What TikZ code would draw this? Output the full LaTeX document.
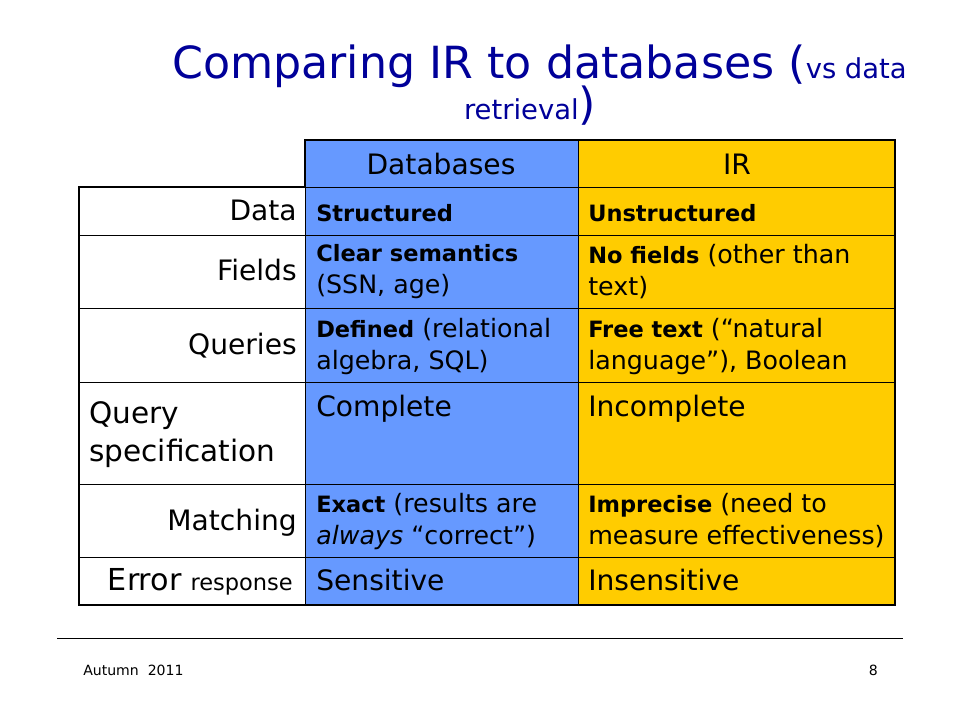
\documentclass[tikz,border=0pt]{standalone}
\usepackage{fontspec}
\setmainfont{DejaVu Sans}
\definecolor{titleblue}{RGB}{0,0,153}
\definecolor{dbblue}{RGB}{102,153,255}
\definecolor{iryellow}{RGB}{255,204,0}
\newcommand{\keyword}[1]{{\fontsize{16}{22.7}\selectfont\bfseries #1}}
\begin{document}
\begin{tikzpicture}[x=0.025cm,y=-0.025cm,
    cell/.style={anchor=north west,align=left,inner sep=0pt,font=\fontsize{18}{22.7}\selectfont},
    bigcell/.style={anchor=base west,inner sep=0pt,font=\fontsize{20}{24}\selectfont},
    rowlabel/.style={anchor=base east,inner sep=0pt,font=\fontsize{20}{24}\selectfont},
    head/.style={anchor=base,inner sep=0pt,font=\fontsize{20}{24}\selectfont},
    thickline/.style={line width=1.6pt},
    thinline/.style={line width=0.5pt}]
    \useasboundingbox (0,0) rectangle (960,720);
    % title
    \node[anchor=base west,inner sep=0pt,text=titleblue,font=\fontsize{31.5}{36}\selectfont] (title) at (172,79) {Comparing IR to databases ({\fontsize{19.5}{22}\selectfont vs data}};
    \node[anchor=base,inner sep=0pt,text=titleblue,font=\fontsize{19.5}{22}\selectfont] (title2) at (530,120) {retrieval{\fontsize{31.5}{36}\selectfont)}};
    % columns
    \fill[dbblue] (305,140) rectangle (578,605);
    \fill[iryellow] (578,140) rectangle (895,605);
    \foreach \y in {235,308,382,484,557} {
        \draw[thinline] (79,\y) -- (895,\y);
    }
    \draw[thinline] (305,187) -- (895,187);
    \draw[thinline] (305,187) -- (305,605);
    \draw[thinline] (578,140) -- (578,605);
    \draw[thickline] (79,187) -- (305,187) -- (305,140) -- (895,140) -- (895,605) -- (79,605) -- cycle;
    % header
    \node[head] (hdb) at (441,175) {Databases};
    \node[head] (hir) at (737,175) {IR};
    % row labels
    \node[rowlabel] (ldata) at (297,221) {Data};
    \node[rowlabel] (lfields) at (297,281) {Fields};
    \node[rowlabel] (lqueries) at (297,355) {Queries};
    \node[anchor=north west,align=left,inner sep=0pt,font=\fontsize{21}{27}\selectfont] (lspec) at (89,401) {Query\\specification};
    \node[rowlabel] (lmatch) at (297,530) {Matching};
    \node[rowlabel] (lerror) at (293,590) {{\fontsize{21.5}{24}\selectfont Error} {\fontsize{16}{20}\selectfont response}};
    % databases column
    \node[cell] (cstruct) at (316,204) {\keyword{Structured}};
    \node[cell] (csem) at (316,244) {\keyword{Clear semantics}\\(SSN, age)};
    \node[cell] (cdef) at (316,318) {\keyword{Defined} (relational\\algebra, SQL)};
    \node[bigcell] (ccomp) at (316,417) {Complete};
    \node[cell] (cexact) at (316,493) {\keyword{Exact} (results are\\\textit{always} “correct”)};
    \node[bigcell] (csens) at (316,590) {Sensitive};
    % ir column
    \node[cell] (iunstruct) at (588,204) {\keyword{Unstructured}};
    \node[cell] (inofields) at (588,244) {\keyword{No fields} (other than\\text)};
    \node[cell] (ifree) at (588,318) {\keyword{Free text} (“natural\\language”), Boolean};
    \node[bigcell] (iincomp) at (588,417) {Incomplete};
    \node[cell] (iimprec) at (588,493) {\keyword{Imprecise} (need to\\measure effectiveness)};
    \node[bigcell] (iinsens) at (588,590) {Insensitive};
    % footer
    \draw[thinline] (57,638) -- (903,638);
    \node[anchor=base west,inner sep=0pt,font=\fontsize{10}{12}\selectfont] (fdate) at (83,675) {Autumn~~2011};
    \node[anchor=base east,inner sep=0pt,font=\fontsize{10}{12}\selectfont] (fpage) at (878,675) {8};
\end{tikzpicture}
\end{document}
